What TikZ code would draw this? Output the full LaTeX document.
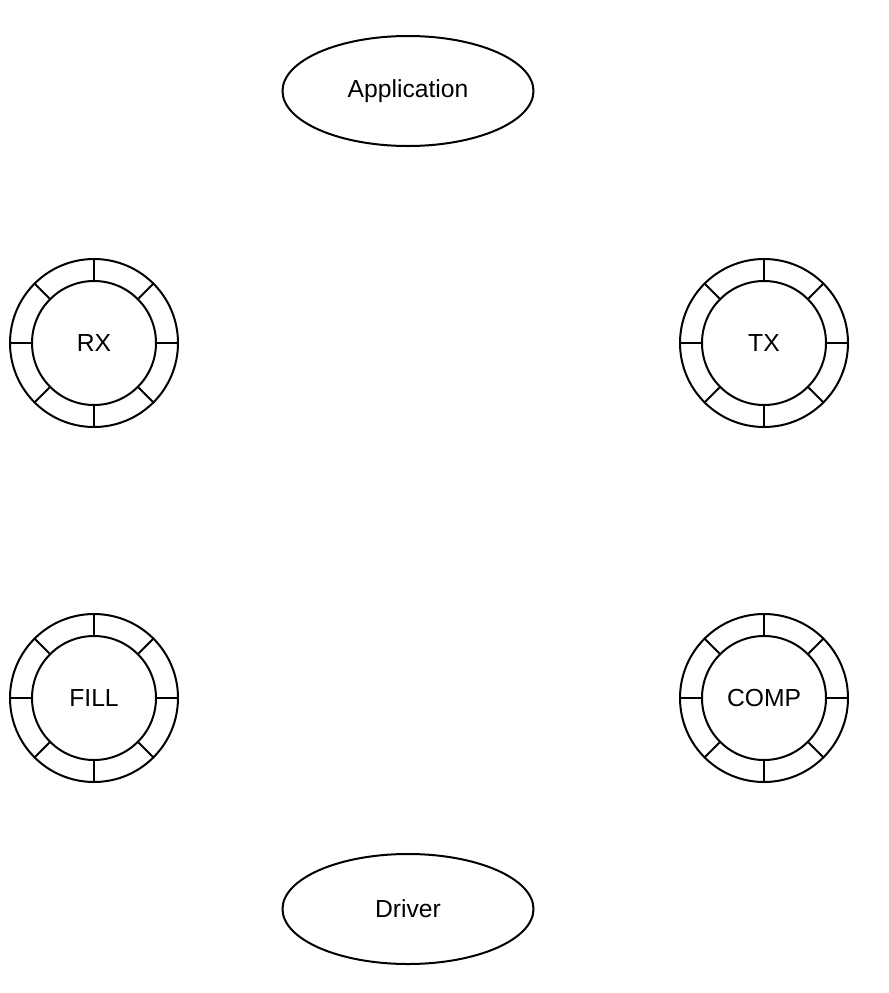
\documentclass[tikz,border=0pt]{standalone}
\usepackage{fontspec}
\setmainfont{Liberation Sans}
\usetikzlibrary{shapes.geometric}
\begin{document}
\begin{tikzpicture}[x=0.75pt,y=-0.75pt,
  line width=1.5pt,
  label text/.style={font=\fontsize{18.5}{22}\selectfont},
  endpoint/.style={ellipse,draw,minimum width=251*0.75pt,minimum height=110*0.75pt,inner sep=0pt,label text},
  ringcore/.style={circle,draw,minimum size=124*0.75pt,inner sep=0pt,label text},
  ringouter/.style={circle,draw,minimum size=168*0.75pt,inner sep=0pt}]
\useasboundingbox (0,0) rectangle (889,993);

% application and driver ends
\node[endpoint] (app) at (408,91) {Application};
\node[endpoint] (drv) at (408,909) {Driver};

% four rings, each an outer circle, an inner circle and eight spokes
\foreach \name/\lbl/\cx/\cy in {rx/RX/94/343, tx/TX/764/343, fill/FILL/94/698, comp/COMP/764/698}{
  \node[ringouter] (\name-outer) at (\cx,\cy) {};
  \node[ringcore] (\name) at (\cx,\cy) {\lbl};
  \foreach \a in {0,45,...,315}
    \draw (\name.\a) -- (\name-outer.\a);
}
\end{tikzpicture}
\end{document}
